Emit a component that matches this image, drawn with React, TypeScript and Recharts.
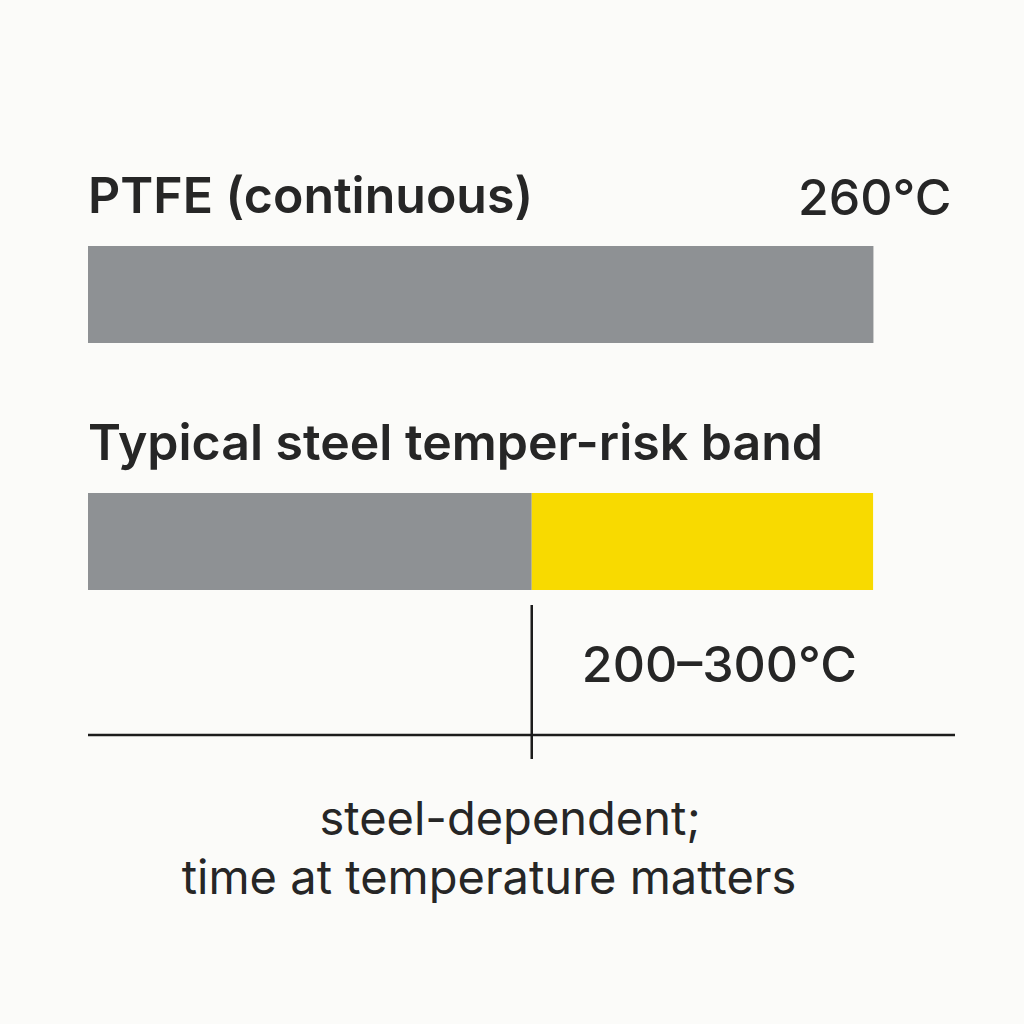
import React from 'react';
import { BarChart, Bar, XAxis, YAxis, LabelList } from 'recharts';

// ---- data ----
const categories = ['PTFE (continuous)', 'Typical steel temper-risk band'];
const ptfeLimit = [260, null];
const steelBelowBand = [null, 200];
const steelBandWidth = [null, 100]; // band 200 → 300 °C
const valueLabels = ['260°C', '200–300°C'];
const axisTicks = [200];
const noteLines = ['steel-dependent;', 'time at temperature matters'];

const data = categories.map((name, i) => ({
  name,
  ptfe: ptfeLimit[i],
  below: steelBelowBand[i],
  band: steelBandWidth[i],
}));

// ---- style ----
const BG = '#fbfbf9';
const GRAY = '#8e9194';
const YELLOW = '#f8da00';
const INK = '#262626';
const LINE = '#1c1c1c';
const FONT = 'Inter, Roboto, "Liberation Sans", sans-serif';
const LEFT = 88;
const AXIS_W = 10;
const AXIS_H = 10;

const CategoryTick = (props: any) => {
  const { y, payload } = props;
  return (
    <text x={LEFT} y={y - 82} fill={INK} fontFamily={FONT} fontSize={50} fontWeight={600} textAnchor="start">
      {payload.value}
    </text>
  );
};

const PtfeValueLabel = (props: any) => {
  const { x, y, width, value } = props;
  if (value == null) return null;
  return (
    <text x={x + width + 78} y={y - 31} fill={INK} fontFamily={FONT} fontSize={50} fontWeight={500} textAnchor="end">
      {valueLabels[0]}
    </text>
  );
};

const BandValueLabel = (props: any) => {
  const { x, y, width, height, value } = props;
  if (value == null) return null;
  return (
    <text x={x + width / 2 + 17} y={y + height + 92} fill={INK} fontFamily={FONT} fontSize={50} fontWeight={500} textAnchor="middle">
      {valueLabels[1]}
    </text>
  );
};

const AxisTick = (props: any) => {
  const { x, y } = props;
  return (
    <g>
      <line x1={x} x2={x} y1={y - 130} y2={y + 24} stroke={LINE} strokeWidth={2.5} />
      <text x={510} y={y + 100} fill={INK} fontFamily={FONT} fontSize={47} fontWeight={400} textAnchor="middle">
        {noteLines[0]}
      </text>
      <text x={489} y={y + 159} fill={INK} fontFamily={FONT} fontSize={47} fontWeight={400} textAnchor="middle">
        {noteLines[1]}
      </text>
    </g>
  );
};

export default function App() {
  return (
    <div style={{ position: 'absolute', left: 0, top: 0, width: 1024, height: 1024, background: BG }}>
      <BarChart
        width={1024}
        height={1024}
        data={data}
        layout="vertical"
        margin={{ top: 171, right: 69, bottom: 289 - AXIS_H, left: LEFT - AXIS_W }}
        barSize={97}
      >
        <XAxis xAxisId="ptfe" type="number" domain={[0, 287]} orientation="top" height={0} hide />
        <XAxis
          xAxisId="steel"
          type="number"
          domain={[70, 324]}
          allowDataOverflow
          ticks={axisTicks}
          height={AXIS_H}
          tickSize={0}
          tickMargin={0}
          tickLine={false}
          axisLine={{ stroke: LINE, strokeWidth: 2.5 }}
          tick={<AxisTick />}
          interval={0}
        />
        <YAxis
          yAxisId="ptfe"
          type="category"
          dataKey="name"
          width={AXIS_W}
          padding={{ top: 0, bottom: 70 }}
          axisLine={false}
          tickLine={false}
          tick={<CategoryTick />}
          interval={0}
        />
        <YAxis yAxisId="steel" type="category" dataKey="name" width={AXIS_W} padding={{ top: 0, bottom: 70 }} hide />
        <Bar xAxisId="ptfe" yAxisId="ptfe" dataKey="ptfe" fill={GRAY} isAnimationActive={false}>
          <LabelList dataKey="ptfe" content={<PtfeValueLabel />} />
        </Bar>
        <Bar xAxisId="steel" yAxisId="steel" dataKey="below" stackId="s" fill={GRAY} isAnimationActive={false} />
        <Bar xAxisId="steel" yAxisId="steel" dataKey="band" stackId="s" fill={YELLOW} isAnimationActive={false}>
          <LabelList dataKey="band" content={<BandValueLabel />} />
        </Bar>
      </BarChart>
    </div>
  );
}
